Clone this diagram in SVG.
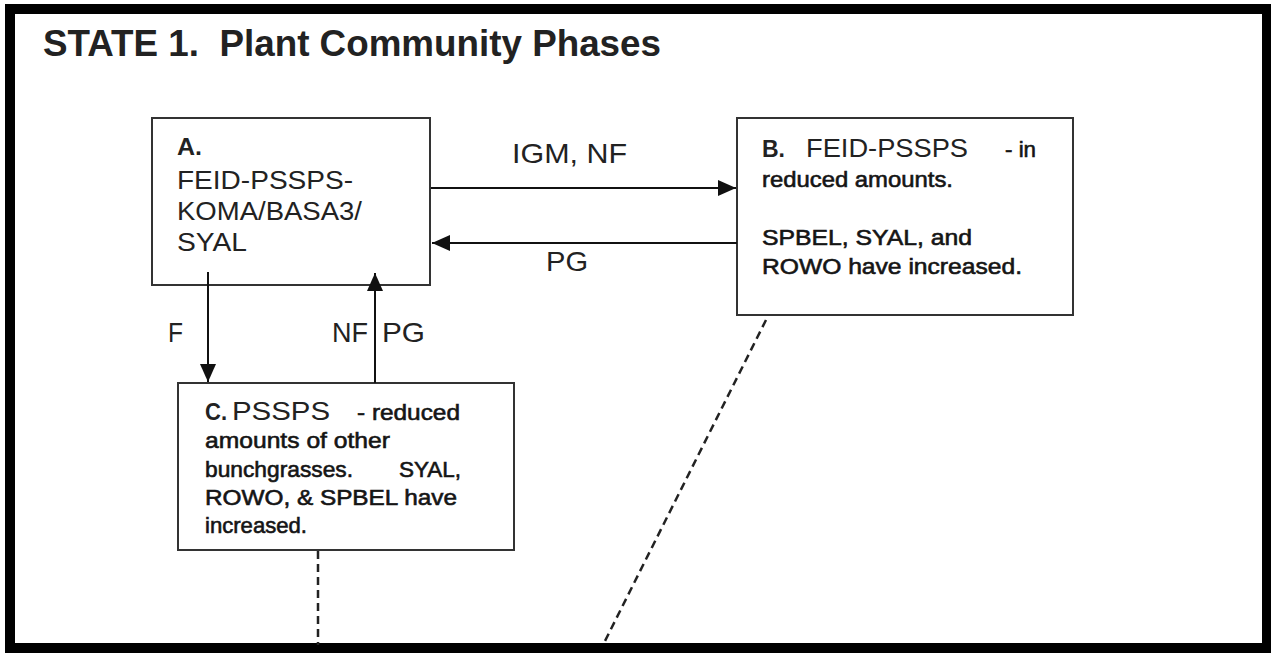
<svg xmlns="http://www.w3.org/2000/svg" width="1271" height="653" viewBox="0 0 1271 653">
<defs>
<style>
.box{fill:#fff;stroke:#333;stroke-width:2}
.t{font-family:"Liberation Sans",Arial,sans-serif;fill:#222}
.r{font-size:26px}
.b{font-weight:bold}
.s{font-size:22px;fill:#151515;stroke:#151515;stroke-width:0.6}
.lbl{font-family:"Liberation Sans",Arial,sans-serif;font-size:28px;fill:#222}
.edge{stroke:#111;stroke-width:2;fill:none}
.dash{stroke:#222;stroke-width:2.5;fill:none;stroke-dasharray:8 5}
</style>
<marker id="ah" viewBox="0 0 18 16" refX="18" refY="8" markerWidth="18" markerHeight="16" markerUnits="userSpaceOnUse" orient="auto">
<path d="M0,0 L18,8 L0,16 Z" fill="#111"/>
</marker>
</defs>
<rect x="0" y="0" width="1271" height="653" fill="#fff"/>
<rect x="10" y="9" width="1257" height="639" fill="none" stroke="#000" stroke-width="10"/>
<text class="t b" x="43" y="56" font-size="36" fill="#111" xml:space="preserve" textLength="618" lengthAdjust="spacingAndGlyphs">STATE 1.  Plant Community Phases</text>

<g id="nodeA">
<rect class="box" x="152" y="118" width="278" height="167"/>
<text class="t b" x="177" y="155" font-size="24" textLength="25" lengthAdjust="spacingAndGlyphs">A.</text>
<text class="t r" x="177" y="189" textLength="176" lengthAdjust="spacingAndGlyphs">FEID-PSSPS-</text>
<text class="t r" x="177" y="220" textLength="185" lengthAdjust="spacingAndGlyphs">KOMA/BASA3/</text>
<text class="t r" x="177" y="251" textLength="70" lengthAdjust="spacingAndGlyphs">SYAL</text>
</g>

<g id="nodeB">
<rect class="box" x="737" y="118" width="336" height="197"/>
<text class="t b" x="762" y="157" font-size="24" textLength="23" lengthAdjust="spacingAndGlyphs">B.</text>
<text class="t r" x="806" y="157" textLength="162" lengthAdjust="spacingAndGlyphs">FEID-PSSPS</text>
<text class="t s" x="1005" y="157" textLength="31" lengthAdjust="spacingAndGlyphs">- in</text>
<text class="t s" x="762" y="187" textLength="191" lengthAdjust="spacingAndGlyphs">reduced amounts.</text>
<text class="t s" x="762" y="245" textLength="210" lengthAdjust="spacingAndGlyphs">SPBEL, SYAL, and</text>
<text class="t s" x="762" y="274" textLength="260" lengthAdjust="spacingAndGlyphs">ROWO have increased.</text>
</g>

<g id="nodeC">
<rect class="box" x="178" y="383" width="336" height="167"/>
<text class="t b" x="205" y="420" font-size="24" textLength="22" lengthAdjust="spacingAndGlyphs">C.</text>
<text class="t r" x="232" y="420" textLength="98" lengthAdjust="spacingAndGlyphs">PSSPS</text>
<text class="t s" x="357" y="420" textLength="103" lengthAdjust="spacingAndGlyphs">- reduced</text>
<text class="t s" x="205" y="448" textLength="185" lengthAdjust="spacingAndGlyphs">amounts of other</text>
<text class="t s" x="205" y="477" textLength="148" lengthAdjust="spacingAndGlyphs">bunchgrasses.</text>
<text class="t s" x="399" y="477" textLength="62" lengthAdjust="spacingAndGlyphs">SYAL,</text>
<text class="t s" x="205" y="505" textLength="252" lengthAdjust="spacingAndGlyphs">ROWO, &amp; SPBEL have</text>
<text class="t s" x="205" y="533" textLength="102" lengthAdjust="spacingAndGlyphs">increased.</text>
</g>

<g id="connectors">
<line class="edge" x1="431" y1="188" x2="736" y2="188" marker-end="url(#ah)"/>
<line class="edge" x1="737" y1="243" x2="432" y2="243" marker-end="url(#ah)"/>
<line class="edge" x1="208" y1="272" x2="208" y2="382" marker-end="url(#ah)"/>
<line class="edge" x1="375" y1="383" x2="375" y2="273" marker-end="url(#ah)"/>
<line class="dash" x1="318" y1="551" x2="318" y2="645"/>
<line class="dash" x1="766" y1="320" x2="603" y2="645"/>
<text class="lbl" x="512" y="163" textLength="115" lengthAdjust="spacingAndGlyphs">IGM, NF</text>
<text class="lbl" x="546" y="271" textLength="42" lengthAdjust="spacingAndGlyphs">PG</text>
<text class="lbl" x="168" y="342" textLength="15" lengthAdjust="spacingAndGlyphs">F</text>
<text class="lbl" x="332" y="342" textLength="36" lengthAdjust="spacingAndGlyphs">NF</text>
<text class="lbl" x="382" y="342" textLength="43" lengthAdjust="spacingAndGlyphs">PG</text>
</g>
</svg>
